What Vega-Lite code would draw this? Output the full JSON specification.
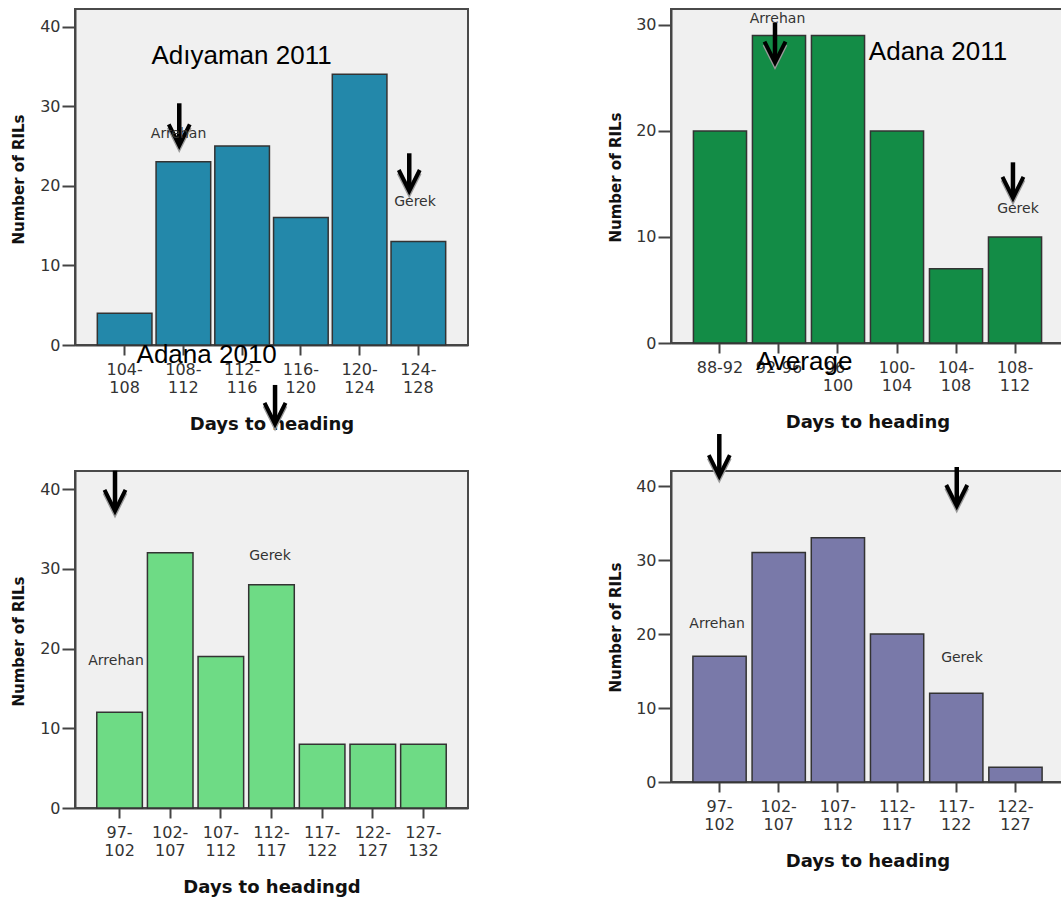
{
  "$schema": "https://vega.github.io/schema/vega-lite/v6.json",
  "background": "white",
  "autosize": {"type": "pad"},
  "padding": {"left": 10, "top": 8, "right": 0, "bottom": 0},
  "config": {
    "view": {"fill": "#f0f0f0", "stroke": "#4a4a4a", "strokeWidth": 2},
    "font": "DejaVu Sans",
    "axis": {
      "grid": false,
      "labelFont": "DejaVu Sans",
      "labelFontSize": 16,
      "labelColor": "#333333",
      "titleFont": "DejaVu Sans",
      "titleFontWeight": "bold",
      "titleColor": "#111111",
      "domainColor": "#444444",
      "domainWidth": 2,
      "tickColor": "#444444",
      "tickWidth": 2
    },
    "axisX": {
      "tickSize": 10,
      "labelPadding": 6,
      "labelAngle": 0,
      "labelOverlap": false,
      "labelLineHeight": 18,
      "labelExpr": "length(datum.label) > 5 ? [slice(datum.label, 0, indexof(datum.label, '-') + 1), slice(datum.label, indexof(datum.label, '-') + 1)] : datum.label",
      "titleFontSize": 18,
      "titleY": 79,
      "titleBaseline": "middle"
    },
    "axisY": {
      "tickSize": 13,
      "labelPadding": 2,
      "titleFontSize": 15,
      "titleX": -57,
      "titleBaseline": "middle"
    }
  },
  "datasets": {
    "bins": [
      {"panel": "p1", "bin": "104-108", "n": 4},
      {"panel": "p1", "bin": "108-112", "n": 23},
      {"panel": "p1", "bin": "112-116", "n": 25},
      {"panel": "p1", "bin": "116-120", "n": 16},
      {"panel": "p1", "bin": "120-124", "n": 34},
      {"panel": "p1", "bin": "124-128", "n": 13},
      {"panel": "p2", "bin": "88-92", "n": 20},
      {"panel": "p2", "bin": "92-96", "n": 29},
      {"panel": "p2", "bin": "96-100", "n": 29},
      {"panel": "p2", "bin": "100-104", "n": 20},
      {"panel": "p2", "bin": "104-108", "n": 7},
      {"panel": "p2", "bin": "108-112", "n": 10},
      {"panel": "p3", "bin": "97-102", "n": 12},
      {"panel": "p3", "bin": "102-107", "n": 32},
      {"panel": "p3", "bin": "107-112", "n": 19},
      {"panel": "p3", "bin": "112-117", "n": 28},
      {"panel": "p3", "bin": "117-122", "n": 8},
      {"panel": "p3", "bin": "122-127", "n": 8},
      {"panel": "p3", "bin": "127-132", "n": 8},
      {"panel": "p4", "bin": "97-102", "n": 17},
      {"panel": "p4", "bin": "102-107", "n": 31},
      {"panel": "p4", "bin": "107-112", "n": 33},
      {"panel": "p4", "bin": "112-117", "n": 20},
      {"panel": "p4", "bin": "117-122", "n": 12},
      {"panel": "p4", "bin": "122-127", "n": 2}
    ],
    "notes": [
      {"panel": "p1", "kind": "heading", "text": "Adıyaman 2011", "day": 113.96, "y": 35.29},
      {"panel": "p1", "kind": "tag", "text": "Arrehan", "day": 109.67, "y": 26.5},
      {"panel": "p1", "kind": "arrow", "day": 109.72, "top": 30.36, "tip": 25.06},
      {"panel": "p1", "kind": "tag", "text": "Gerek", "day": 125.77, "y": 17.9},
      {"panel": "p1", "kind": "arrow", "day": 125.38, "top": 24.08, "tip": 19.34},
      {"panel": "p2", "kind": "heading", "text": "Adana 2011", "day": 104.78, "y": 26.69},
      {"panel": "p2", "kind": "tag", "text": "Arrehan", "day": 93.9, "y": 30.56},
      {"panel": "p2", "kind": "arrow", "day": 93.73, "top": 30.18, "tip": 26.44},
      {"panel": "p2", "kind": "tag", "text": "Gerek", "day": 110.2, "y": 12.64},
      {"panel": "p2", "kind": "arrow", "day": 109.86, "top": 17.04, "tip": 13.68},
      {"panel": "p3", "kind": "heading", "text": "Adana 2010", "day": 108.1, "y": 55.81},
      {"panel": "p3", "kind": "tag", "text": "Arrehan", "day": 99.15, "y": 18.43},
      {"panel": "p3", "kind": "arrow", "day": 99.05, "top": 42.3, "tip": 37.25},
      {"panel": "p3", "kind": "tag", "text": "Gerek", "day": 114.35, "y": 31.6},
      {"panel": "p3", "kind": "arrow", "day": 114.85, "top": 53.05, "tip": 48.16},
      {"panel": "p4", "kind": "heading", "text": "Average", "day": 106.65, "y": 55.68},
      {"panel": "p4", "kind": "tag", "text": "Arrehan", "day": 99.29, "y": 21.42},
      {"panel": "p4", "kind": "arrow", "day": 99.48, "top": 47.03, "tip": 41.35},
      {"panel": "p4", "kind": "tag", "text": "Gerek", "day": 119.98, "y": 16.76},
      {"panel": "p4", "kind": "arrow", "day": 119.54, "top": 42.57, "tip": 37.3}
    ]
  },
  "columns": 2,
  "spacing": {"row": 126, "column": 203},
  "bounds": "flush",
  "align": "each",
  "concat": [
    {
      "width": 393,
      "height": 336,
      "resolve": {"scale": {"x": "independent"}},
      "layer": [
        {
          "data": {"name": "bins"},
          "transform": [{"filter": "datum.panel === 'p1'"}],
          "mark": {"type": "bar", "color": "#2388aa", "stroke": "#333333", "strokeWidth": 1.5},
          "encoding": {
            "x": {"field": "bin", "type": "nominal", "sort": null, "scale": {"paddingInner": 0.07, "paddingOuter": 0.38}, "axis": {"title": "Days to heading"}},
            "y": {"field": "n", "type": "quantitative", "scale": {"domain": [0, 42.2], "nice": false}, "axis": {"title": "Number of RILs", "values": [0, 10, 20, 30, 40], "titleY": 170}}
          }
        },
        {
          "data": {"name": "notes"},
          "transform": [{"filter": "datum.panel === 'p1'"}],
          "encoding": {"x": {"field": "day", "type": "quantitative", "scale": {"domain": [102.62, 129.38], "nice": false, "zero": false}, "axis": null}},
          "layer": [
            {"transform": [{"filter": "datum.kind === 'arrow'"}], "mark": {"type": "rule", "color": "black", "strokeWidth": 4.5}, "encoding": {"y": {"field": "top", "type": "quantitative", "scale": {"domain": [0, 42.2], "nice": false}}, "y2": {"field": "tip"}}},
            {"transform": [{"filter": "datum.kind === 'arrow'"}], "mark": {"type": "point", "shape": "M-0.5,-1L0,0L0.5,-1", "filled": false, "opacity": 1, "stroke": "#9a9a9a", "strokeWidth": 4, "size": 1764, "yOffset": 3}, "encoding": {"y": {"field": "tip", "type": "quantitative", "scale": {"domain": [0, 42.2], "nice": false}}}},
            {"transform": [{"filter": "datum.kind === 'arrow'"}], "mark": {"type": "point", "shape": "M-0.5,-1L0,0L0.5,-1", "filled": false, "opacity": 1, "stroke": "black", "strokeWidth": 4, "size": 1764}, "encoding": {"y": {"field": "tip", "type": "quantitative", "scale": {"domain": [0, 42.2], "nice": false}}}},
            {"transform": [{"filter": "datum.kind === 'tag'"}], "mark": {"type": "text", "font": "DejaVu Sans", "fontSize": 14, "color": "#333333", "align": "center", "baseline": "middle"}, "encoding": {"y": {"field": "y", "type": "quantitative", "scale": {"domain": [0, 42.2], "nice": false}}, "text": {"field": "text"}}},
            {"transform": [{"filter": "datum.kind === 'heading'"}], "mark": {"type": "text", "font": "Liberation Sans", "fontSize": 26, "color": "black", "align": "center", "baseline": "alphabetic"}, "encoding": {"y": {"field": "y", "type": "quantitative", "scale": {"domain": [0, 42.2], "nice": false}}, "text": {"field": "text"}}}
          ]
        }
      ]
    },
    {
      "width": 393,
      "height": 334,
      "resolve": {"scale": {"x": "independent"}},
      "layer": [
        {
          "data": {"name": "bins"},
          "transform": [{"filter": "datum.panel === 'p2'"}],
          "mark": {"type": "bar", "color": "#138c46", "stroke": "#333333", "strokeWidth": 1.5},
          "encoding": {
            "x": {"field": "bin", "type": "nominal", "sort": null, "scale": {"paddingInner": 0.1, "paddingOuter": 0.38}, "axis": {"title": "Days to heading"}},
            "y": {"field": "n", "type": "quantitative", "scale": {"domain": [0, 31.5], "nice": false}, "axis": {"title": "Number of RILs", "values": [0, 10, 20, 30], "titleY": 168, "titleX": -56}}
          }
        },
        {
          "data": {"name": "notes"},
          "transform": [{"filter": "datum.panel === 'p2'"}],
          "encoding": {"x": {"field": "day", "type": "quantitative", "scale": {"domain": [86.68, 113.32], "nice": false, "zero": false}, "axis": null}},
          "layer": [
            {"transform": [{"filter": "datum.kind === 'arrow'"}], "mark": {"type": "rule", "color": "black", "strokeWidth": 4.5}, "encoding": {"y": {"field": "top", "type": "quantitative", "scale": {"domain": [0, 31.5], "nice": false}}, "y2": {"field": "tip"}}},
            {"transform": [{"filter": "datum.kind === 'arrow'"}], "mark": {"type": "point", "shape": "M-0.5,-1L0,0L0.5,-1", "filled": false, "opacity": 1, "stroke": "#9a9a9a", "strokeWidth": 4, "size": 1764, "yOffset": 3}, "encoding": {"y": {"field": "tip", "type": "quantitative", "scale": {"domain": [0, 31.5], "nice": false}}}},
            {"transform": [{"filter": "datum.kind === 'arrow'"}], "mark": {"type": "point", "shape": "M-0.5,-1L0,0L0.5,-1", "filled": false, "opacity": 1, "stroke": "black", "strokeWidth": 4, "size": 1764}, "encoding": {"y": {"field": "tip", "type": "quantitative", "scale": {"domain": [0, 31.5], "nice": false}}}},
            {"transform": [{"filter": "datum.kind === 'tag'"}], "mark": {"type": "text", "font": "DejaVu Sans", "fontSize": 14, "color": "#333333", "align": "center", "baseline": "middle"}, "encoding": {"y": {"field": "y", "type": "quantitative", "scale": {"domain": [0, 31.5], "nice": false}}, "text": {"field": "text"}}},
            {"transform": [{"filter": "datum.kind === 'heading'"}], "mark": {"type": "text", "font": "Liberation Sans", "fontSize": 26, "color": "black", "align": "center", "baseline": "alphabetic"}, "encoding": {"y": {"field": "y", "type": "quantitative", "scale": {"domain": [0, 31.5], "nice": false}}, "text": {"field": "text"}}}
          ]
        }
      ]
    },
    {
      "width": 393,
      "height": 337,
      "resolve": {"scale": {"x": "independent"}},
      "layer": [
        {
          "data": {"name": "bins"},
          "transform": [{"filter": "datum.panel === 'p3'"}],
          "mark": {"type": "bar", "color": "#6edb85", "stroke": "#333333", "strokeWidth": 1.5},
          "encoding": {
            "x": {"field": "bin", "type": "nominal", "sort": null, "scale": {"paddingInner": 0.1, "paddingOuter": 0.43}, "axis": {"title": "Days to headingd"}},
            "y": {"field": "n", "type": "quantitative", "scale": {"domain": [0, 42.26], "nice": false}, "axis": {"title": "Number of RILs", "values": [0, 10, 20, 30, 40], "titleY": 170}}
          }
        },
        {
          "data": {"name": "notes"},
          "transform": [{"filter": "datum.panel === 'p3'"}],
          "encoding": {"x": {"field": "day", "type": "quantitative", "scale": {"domain": [95.1, 133.9], "nice": false, "zero": false}, "axis": null}},
          "layer": [
            {"transform": [{"filter": "datum.kind === 'arrow'"}], "mark": {"type": "rule", "color": "black", "strokeWidth": 4.5}, "encoding": {"y": {"field": "top", "type": "quantitative", "scale": {"domain": [0, 42.26], "nice": false}}, "y2": {"field": "tip"}}},
            {"transform": [{"filter": "datum.kind === 'arrow'"}], "mark": {"type": "point", "shape": "M-0.5,-1L0,0L0.5,-1", "filled": false, "opacity": 1, "stroke": "#9a9a9a", "strokeWidth": 4, "size": 1764, "yOffset": 3}, "encoding": {"y": {"field": "tip", "type": "quantitative", "scale": {"domain": [0, 42.26], "nice": false}}}},
            {"transform": [{"filter": "datum.kind === 'arrow'"}], "mark": {"type": "point", "shape": "M-0.5,-1L0,0L0.5,-1", "filled": false, "opacity": 1, "stroke": "black", "strokeWidth": 4, "size": 1764}, "encoding": {"y": {"field": "tip", "type": "quantitative", "scale": {"domain": [0, 42.26], "nice": false}}}},
            {"transform": [{"filter": "datum.kind === 'tag'"}], "mark": {"type": "text", "font": "DejaVu Sans", "fontSize": 14, "color": "#333333", "align": "center", "baseline": "middle"}, "encoding": {"y": {"field": "y", "type": "quantitative", "scale": {"domain": [0, 42.26], "nice": false}}, "text": {"field": "text"}}},
            {"transform": [{"filter": "datum.kind === 'heading'"}], "mark": {"type": "text", "font": "Liberation Sans", "fontSize": 26, "color": "black", "align": "center", "baseline": "alphabetic"}, "encoding": {"y": {"field": "y", "type": "quantitative", "scale": {"domain": [0, 42.26], "nice": false}}, "text": {"field": "text"}}}
          ]
        }
      ]
    },
    {
      "width": 393,
      "height": 311,
      "resolve": {"scale": {"x": "independent"}},
      "layer": [
        {
          "data": {"name": "bins"},
          "transform": [{"filter": "datum.panel === 'p4'"}],
          "mark": {"type": "bar", "color": "#7979a9", "stroke": "#333333", "strokeWidth": 1.5},
          "encoding": {
            "x": {"field": "bin", "type": "nominal", "sort": null, "scale": {"paddingInner": 0.1, "paddingOuter": 0.37}, "axis": {"title": "Days to heading"}},
            "y": {"field": "n", "type": "quantitative", "scale": {"domain": [0, 42.03], "nice": false}, "axis": {"title": "Number of RILs", "values": [0, 10, 20, 30, 40], "titleY": 156, "titleX": -56}}
          }
        },
        {
          "data": {"name": "notes"},
          "transform": [{"filter": "datum.panel === 'p4'"}],
          "encoding": {"x": {"field": "day", "type": "quantitative", "scale": {"domain": [95.4, 128.6], "nice": false, "zero": false}, "axis": null}},
          "layer": [
            {"transform": [{"filter": "datum.kind === 'arrow'"}], "mark": {"type": "rule", "color": "black", "strokeWidth": 4.5}, "encoding": {"y": {"field": "top", "type": "quantitative", "scale": {"domain": [0, 42.03], "nice": false}}, "y2": {"field": "tip"}}},
            {"transform": [{"filter": "datum.kind === 'arrow'"}], "mark": {"type": "point", "shape": "M-0.5,-1L0,0L0.5,-1", "filled": false, "opacity": 1, "stroke": "#9a9a9a", "strokeWidth": 4, "size": 1764, "yOffset": 3}, "encoding": {"y": {"field": "tip", "type": "quantitative", "scale": {"domain": [0, 42.03], "nice": false}}}},
            {"transform": [{"filter": "datum.kind === 'arrow'"}], "mark": {"type": "point", "shape": "M-0.5,-1L0,0L0.5,-1", "filled": false, "opacity": 1, "stroke": "black", "strokeWidth": 4, "size": 1764}, "encoding": {"y": {"field": "tip", "type": "quantitative", "scale": {"domain": [0, 42.03], "nice": false}}}},
            {"transform": [{"filter": "datum.kind === 'tag'"}], "mark": {"type": "text", "font": "DejaVu Sans", "fontSize": 14, "color": "#333333", "align": "center", "baseline": "middle"}, "encoding": {"y": {"field": "y", "type": "quantitative", "scale": {"domain": [0, 42.03], "nice": false}}, "text": {"field": "text"}}},
            {"transform": [{"filter": "datum.kind === 'heading'"}], "mark": {"type": "text", "font": "Liberation Sans", "fontSize": 26, "color": "black", "align": "center", "baseline": "alphabetic"}, "encoding": {"y": {"field": "y", "type": "quantitative", "scale": {"domain": [0, 42.03], "nice": false}}, "text": {"field": "text"}}}
          ]
        }
      ]
    }
  ]
}
